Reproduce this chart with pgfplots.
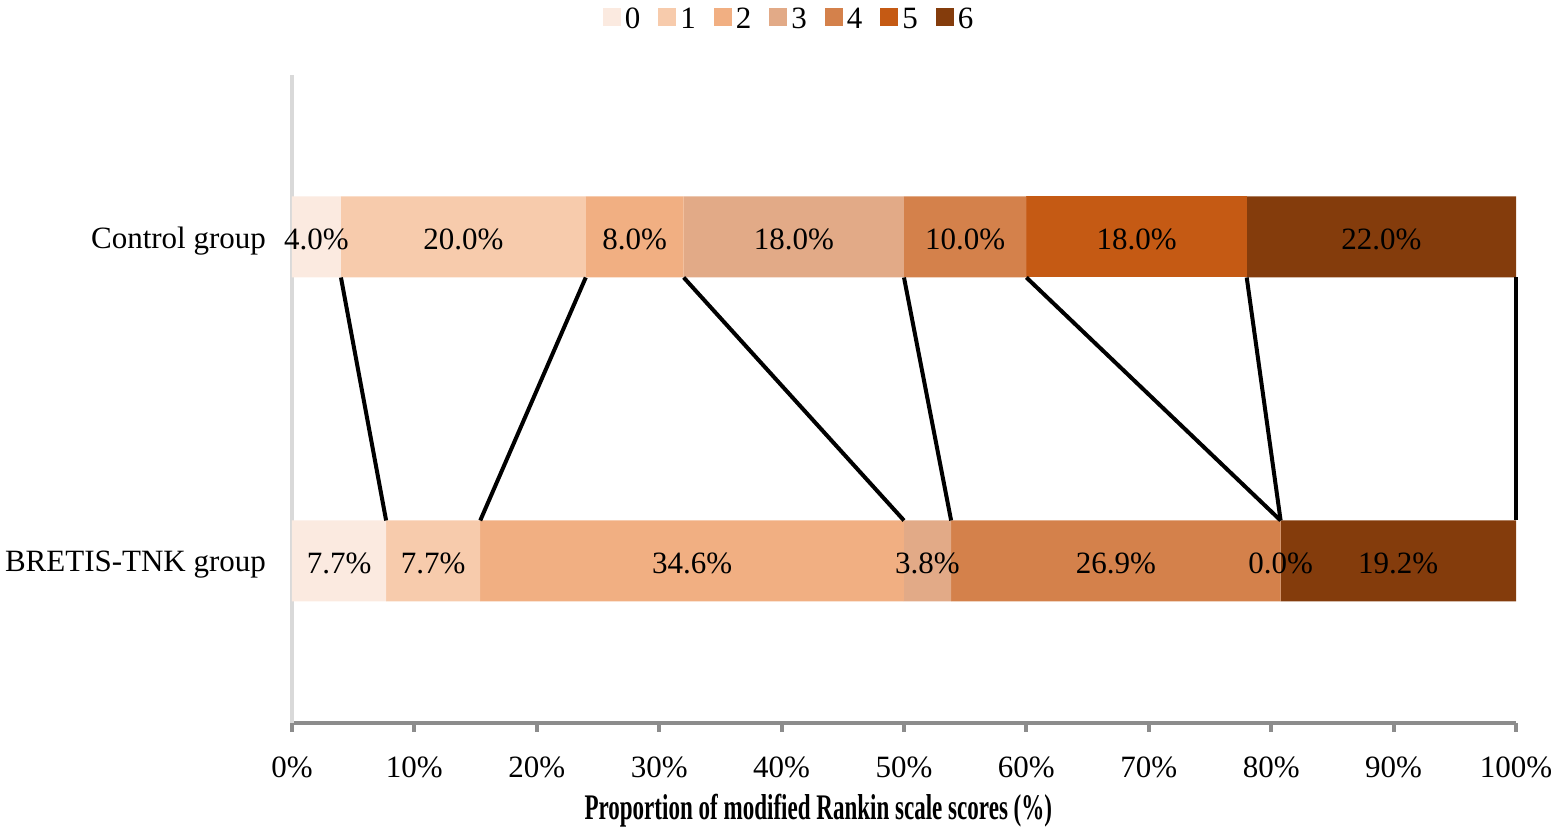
\documentclass[border=0pt]{standalone}
\usepackage{fontspec}
\setmainfont{Liberation Serif}
\usepackage{pgfplots}
\pgfplotsset{compat=1.18}
\usepackage{pgfplotstable}

\definecolor{c0}{HTML}{FBEAE0}
\definecolor{c1}{HTML}{F7CBAC}
\definecolor{c2}{HTML}{F1AF82}
\definecolor{c3}{HTML}{E2AA87}
\definecolor{c4}{HTML}{D4814B}
\definecolor{c5}{HTML}{C55A14}
\definecolor{c6}{HTML}{843C0C}
\definecolor{axgray}{HTML}{8C8C8C}
\definecolor{ylgray}{HTML}{D9D9D9}

% y = 0: BRETIS-TNK group, y = 1: Control group
\pgfplotstableread{
y v0 v1 v2 v3 v4 v5 v6
0 7.69 7.69 34.62 3.85 26.92 0 19.23
1 4 20 8 18 10 18 22
}\bars

\pgfplotstableread{
x y lab
2 1 4.0
14 1 20.0
28 1 8.0
41 1 18.0
55 1 10.0
69 1 18.0
89 1 22.0
3.85 0 7.7
11.54 0 7.7
32.69 0 34.6
51.92 0 3.8
67.31 0 26.9
80.77 0 0.0
90.38 0 19.2
}\labels

\newcommand{\fs}{\fontsize{15.5pt}{18pt}\selectfont}

\begin{document}
\begin{tikzpicture}
\begin{axis}[name=main,
  scale only axis, width=612pt, height=324pt,
  xbar stacked, bar width=0.25,
  xmin=0, xmax=100, ymin=-0.5, ymax=1.5,
  axis x line=bottom, axis y line=left,
  axis line style={-},
  x axis line style={draw=axgray, line width=2pt},
  y axis line style={draw=ylgray, line width=2pt},
  xtick={0,10,...,100},
  xticklabel={\pgfmathprintnumber[assume math mode=true]{\tick}\%},
  x tick style={draw=axgray, line width=2pt},
  tick align=outside, major tick length=4.5pt,
  ytick={0,1}, yticklabels={BRETIS-TNK group, Control group},
  y tick style={draw=none},
  y tick label style={xshift=-5pt, yshift=-2pt},
  x tick label style={yshift=-9pt},
  tick label style={font=\fs},
  xlabel={\scalebox{0.64}[1]{\bfseries Proportion of modified Rankin scale scores (\%)}},
  x label style={at={(axis description cs:0.43,0)}, anchor=base, yshift=-48.5pt, font=\fontsize{18pt}{21pt}\selectfont},
  legend style={at={(0.407,1.085)}, anchor=center, draw=none, fill=none,
    legend columns=7, font=\fs,
    /tikz/every even column/.append style={column sep=7pt},
    nodes={inner xsep=2pt}},
  legend image code/.code={\fill[#1] (0pt,-3pt) rectangle (9pt,6pt);},
]
\addplot[fill=c0, draw=none] table[x=v0, y=y] \bars;
\addplot[fill=c1, draw=none] table[x=v1, y=y] \bars;
\addplot[fill=c2, draw=none] table[x=v2, y=y] \bars;
\addplot[fill=c3, draw=none] table[x=v3, y=y] \bars;
\addplot[fill=c4, draw=none] table[x=v4, y=y] \bars;
\addplot[fill=c5, draw=none] table[x=v5, y=y] \bars;
\addplot[fill=c6, draw=none] table[x=v6, y=y] \bars;
\legend{0,1,2,3,4,5,6}
\end{axis}
\begin{axis}[
  scale only axis, width=612pt, height=324pt,
  xmin=0, xmax=100, ymin=-0.5, ymax=1.5,
  axis lines=none, clip=false,
]
\addplot[black, line width=2pt, mark=none] coordinates {(4,0.875) (7.69,0.125)};
\addplot[black, line width=2pt, mark=none] coordinates {(24,0.875) (15.38,0.125)};
\addplot[black, line width=2pt, mark=none] coordinates {(32,0.875) (50,0.125)};
\addplot[black, line width=2pt, mark=none] coordinates {(50,0.875) (53.85,0.125)};
\addplot[black, line width=2pt, mark=none] coordinates {(60,0.875) (80.77,0.125)};
\addplot[black, line width=2pt, mark=none] coordinates {(78,0.875) (80.77,0.125)};
\addplot[black, line width=2pt, mark=none] coordinates {(100,0.875) (100,0.125)};
\addplot[draw=none, mark=none, nodes near coords={\pgfplotspointmeta\%},
  point meta=explicit symbolic,
  every node near coord/.append style={anchor=center, yshift=-1pt, font=\fs}]
  table[x=x, y=y, meta=lab] \labels;
\end{axis}
\pgfresetboundingbox
\path[use as bounding box] ([xshift=-146pt,yshift=-53.15pt]main.south west) rectangle ([xshift=21.5pt,yshift=37.5pt]main.north east);
\end{tikzpicture}
\end{document}
